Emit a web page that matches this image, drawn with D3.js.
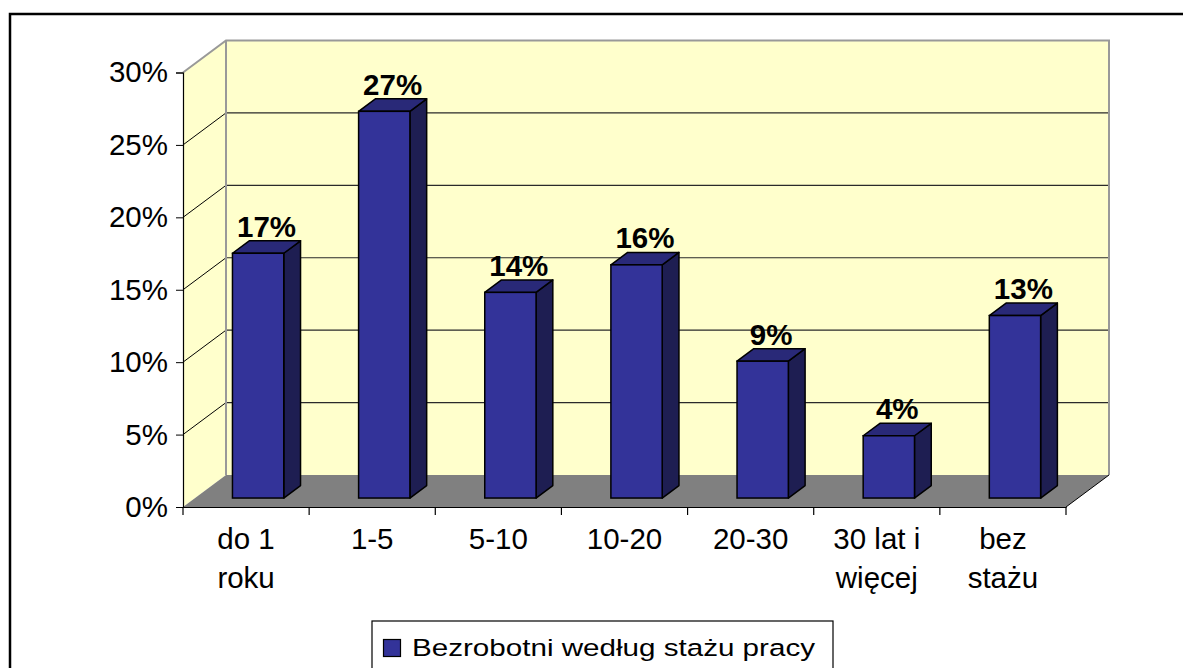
<!DOCTYPE html>
<html>
<head>
<meta charset="utf-8">
<script src="https://cdn.jsdelivr.net/npm/d3@7"></script>
<style>
  body { margin: 0; background: #fff; }
  text { font-family: Arial, "Liberation Sans", sans-serif; }
</style>
</head>
<body>
<div id="plot"></div>
<script>
const width = 1183;
const height = 668;

// ----- DATA ------------------------//
const categories = ["do 1|roku", "1-5", "5-10", "10-20", "20-30", "30 lat i|więcej", "bez|stażu"];
const values = [0.169, 0.267, 0.142, 0.161, 0.0945, 0.043, 0.126];
const yTicks = [0, 0.05, 0.10, 0.15, 0.20, 0.25, 0.30];
const seriesName = "Bezrobotni według stażu pracy";

// 3D depth of the floor / walls
const DX = 43, DY = -32;
// bar depth placement (fraction of the floor depth)
const t0 = 0.28, t1 = 0.67;

var svg = d3.select("#plot").append("svg")
    .attr("width", width)
    .attr("height", height);

// outer frame (runs off the right and bottom of the picture)
svg.append("rect")
    .attr("x", 10).attr("y", 14)
    .attr("width", 1300).attr("height", 800)
    .attr("fill", "none")
    .attr("stroke", "#000")
    .attr("stroke-width", 2.5);

// Scale prep
const xScl = d3.scaleBand().domain(categories).range([183, 1066]).padding(0);
const yScl = d3.scaleLinear().domain([0, 0.30]).range([507, 72.5]);
const yMax = yScl(0.30), y0 = yScl(0);
const xL = xScl.range()[0], xR = xScl.range()[1];

const pt = (x, y, t) => [x + DX * t, y + DY * t];
const poly = pts => pts.map(p => p.join(",")).join(" ");

// back wall
svg.append("rect")
    .attr("x", xL + DX).attr("y", yMax + DY)
    .attr("width", xR - xL).attr("height", y0 - yMax)
    .attr("fill", "#ffffcc");

// left wall
svg.append("polygon")
    .attr("points", poly([pt(xL, yMax, 0), pt(xL, yMax, 1), pt(xL, y0, 1), pt(xL, y0, 0)]))
    .attr("fill", "#ffffcc");

// floor
svg.append("polygon")
    .attr("points", poly([pt(xL, y0, 0), pt(xR, y0, 0), pt(xR, y0, 1), pt(xL, y0, 1)]))
    .attr("fill", "#808080");

// gridlines
const grid = yTicks.filter(v => v > 0 && v < 0.30);
svg.selectAll(".gridBack").data(grid).enter().append("line")
    .attr("x1", xL + DX).attr("x2", xR + DX)
    .attr("y1", d => yScl(d) + DY).attr("y2", d => yScl(d) + DY)
    .attr("stroke", "#2a2a2a").attr("stroke-width", 1.2);
svg.selectAll(".gridLeft").data(grid).enter().append("line")
    .attr("x1", xL).attr("y1", d => yScl(d))
    .attr("x2", xL + DX).attr("y2", d => yScl(d) + DY)
    .attr("stroke", "#000").attr("stroke-width", 1);

// wall borders (gray)
svg.append("path")
    .attr("d", "M" + poly([pt(xL, yMax, 0), pt(xL, yMax, 1), pt(xR, yMax, 1), pt(xR, y0, 1)]).replace(/ /g, " L"))
    .attr("fill", "none").attr("stroke", "#999").attr("stroke-width", 2);
svg.append("line")
    .attr("x1", xL + DX).attr("y1", yMax + DY)
    .attr("x2", xL + DX).attr("y2", y0 + DY)
    .attr("stroke", "#999").attr("stroke-width", 2);
// floor right edge
svg.append("line")
    .attr("x1", xR).attr("y1", y0).attr("x2", xR + DX).attr("y2", y0 + DY)
    .attr("stroke", "#000").attr("stroke-width", 1);

// ----- BARS ---------------------------//
const barW = 51.3;
const bars = svg.selectAll(".bar")
    .data(categories.map((c, i) => ({ cat: c, v: values[i] })))
    .enter().append("g");

function front(d) {
    const cx = xScl(d.cat) + xScl.bandwidth() / 2;
    const [x0f, yb] = pt(cx - barW / 2, y0, t0);
    const yt = yScl(d.v) + DY * t0;
    return { x0: x0f, x1: x0f + barW, yb: yb, yt: yt };
}
const ddx = DX * (t1 - t0), ddy = DY * (t1 - t0);

bars.append("polygon")
    .attr("points", d => { const f = front(d);
        return poly([[f.x1, f.yt], [f.x1 + ddx, f.yt + ddy], [f.x1 + ddx, f.yb + ddy], [f.x1, f.yb]]); })
    .attr("fill", "#1e1e52").attr("stroke", "#000").attr("stroke-width", 1.5)
    .attr("stroke-linejoin", "round");
bars.append("polygon")
    .attr("points", d => { const f = front(d);
        return poly([[f.x0, f.yt], [f.x0 + ddx, f.yt + ddy], [f.x1 + ddx, f.yt + ddy], [f.x1, f.yt]]); })
    .attr("fill", "#292978").attr("stroke", "#000").attr("stroke-width", 1.5)
    .attr("stroke-linejoin", "round");
bars.append("rect")
    .attr("x", d => front(d).x0)
    .attr("y", d => front(d).yt)
    .attr("width", barW)
    .attr("height", d => front(d).yb - front(d).yt)
    .attr("fill", "#333399").attr("stroke", "#000").attr("stroke-width", 1.5);

bars.append("text")
    .attr("x", d => { const f = front(d); return (f.x0 + f.x1 + ddx) / 2; })
    .attr("y", d => front(d).yt + ddy - 4)
    .attr("text-anchor", "middle")
    .style("font-size", "29.5px")
    .style("font-weight", "bold")
    .text(d => d3.format(".0%")(d.v));

// ----- AXES ---------------------------//
const yAxis = d3.axisLeft(yScl)
    .tickValues(yTicks)
    .tickFormat(d3.format(".0%"))
    .tickSize(7)
    .tickPadding(8);
const gy = svg.append("g")
    .attr("transform", "translate(" + xL + ",0)")
    .call(yAxis);
gy.select(".domain").attr("stroke", "#000").attr("stroke-width", 1.2);
gy.selectAll(".tick line").attr("stroke", "#000");
gy.selectAll(".tick text")
    .attr("fill", "#000")
    .style("font-size", "29.5px")
    .style("font-family", "Arial, 'Liberation Sans', sans-serif");

const xAxis = d3.axisBottom(xScl).tickSize(0).tickPadding(0).tickFormat("");
const gx = svg.append("g")
    .attr("transform", "translate(0," + y0 + ")")
    .call(xAxis);
gx.select(".domain").attr("stroke", "#000").attr("stroke-width", 1.2);

// boundary ticks between categories
const edges = categories.map(c => xScl(c)).concat([xR]);
svg.selectAll(".xtick").data(edges).enter().append("line")
    .attr("x1", d => d).attr("x2", d => d)
    .attr("y1", y0).attr("y2", y0 + 8)
    .attr("stroke", "#000").attr("stroke-width", 1.2);

// category labels (two lines)
const lab = svg.selectAll(".xlab").data(categories).enter().append("text")
    .attr("x", d => xScl(d) + xScl.bandwidth() / 2)
    .attr("y", 549)
    .attr("text-anchor", "middle")
    .style("font-size", "29.5px");
lab.selectAll("tspan").data(d => d.split("|").map(s => ({ s: s, x: xScl(d) + xScl.bandwidth() / 2 })))
    .enter().append("tspan")
    .attr("x", d => d.x)
    .attr("dy", (d, i) => i === 0 ? 0 : 39)
    .text(d => d.s);

// ----- LEGEND ---------------------------//
const leg = svg.append("g");
leg.append("rect")
    .attr("x", 372).attr("y", 621)
    .attr("width", 461).attr("height", 80)
    .attr("fill", "#fff").attr("stroke", "#000").attr("stroke-width", 1.2);
leg.append("rect")
    .attr("x", 383.5).attr("y", 639.5)
    .attr("width", 17).attr("height", 17)
    .attr("fill", "#333399").attr("stroke", "#000").attr("stroke-width", 1.2);
// legend text in the reference is drawn horizontally stretched
leg.append("text")
    .attr("x", 412).attr("y", 656)
    .attr("textLength", 403)
    .attr("lengthAdjust", "spacingAndGlyphs")
    .style("font-size", "24.5px")
    .text(seriesName);
</script>
</body>
</html>
